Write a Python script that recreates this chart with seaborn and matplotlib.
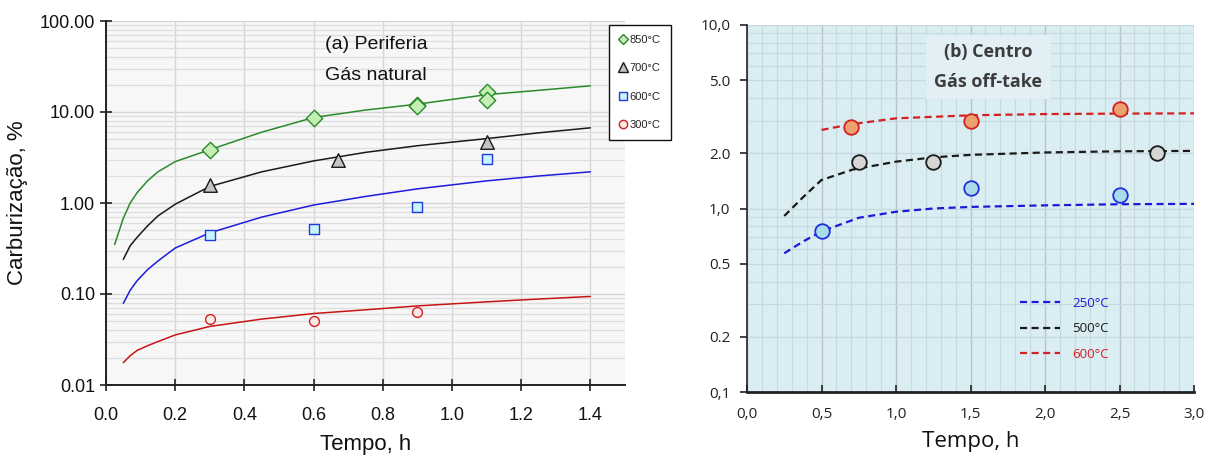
import numpy as np
import pandas as pd
import matplotlib
matplotlib.use("Agg")
import matplotlib.pyplot as plt
from matplotlib.lines import Line2D
from matplotlib.ticker import FixedLocator, NullFormatter, LogLocator, MultipleLocator
import seaborn as sns

sns.set_theme(style="white")
plt.rcParams['font.family'] = ['Liberation Sans', 'DejaVu Sans']

# ---------------- Panel (a): Periferia, Gás natural ----------------
a_labels = ["850°C", "700°C", "600°C", "300°C"]

# measured points
a850_t = [0.3, 0.6, 0.9, 0.9, 1.1, 1.1]
a850_v = [3.87, 8.6, 11.9, 11.5, 16.5, 13.5]
a700_t = [0.3, 0.67, 1.1]
a700_v = [1.56, 2.95, 4.7]
a600_t = [0.3, 0.6, 0.9, 1.1]
a600_v = [0.44, 0.52, 0.9, 3.08]
a300_t = [0.3, 0.6, 0.9]
a300_v = [0.053, 0.051, 0.064]

# model curves
c850_t = [0.025, 0.05, 0.07, 0.09, 0.12, 0.15, 0.2, 0.3, 0.45, 0.6, 0.75, 0.9, 1.1, 1.25, 1.4]
c850_v = [0.35, 0.68, 1.0, 1.3, 1.75, 2.2, 2.85, 3.85, 6.0, 8.7, 10.5, 12.2, 15.5, 17.3, 19.4]
c700_t = [0.05, 0.07, 0.09, 0.12, 0.15, 0.2, 0.3, 0.45, 0.6, 0.75, 0.9, 1.1, 1.25, 1.4]
c700_v = [0.24, 0.34, 0.42, 0.56, 0.72, 0.97, 1.52, 2.2, 2.9, 3.6, 4.26, 5.1, 5.9, 6.7]
c600_t = [0.05, 0.07, 0.09, 0.12, 0.15, 0.2, 0.3, 0.45, 0.6, 0.75, 0.9, 1.1, 1.25, 1.4]
c600_v = [0.079, 0.11, 0.14, 0.185, 0.23, 0.32, 0.47, 0.7, 0.95, 1.18, 1.43, 1.75, 1.98, 2.2]
c300_t = [0.05, 0.07, 0.09, 0.12, 0.15, 0.2, 0.3, 0.45, 0.6, 0.75, 0.9, 1.1, 1.25, 1.4]
c300_v = [0.0176, 0.021, 0.024, 0.027, 0.030, 0.0355, 0.044, 0.053, 0.061, 0.067, 0.074, 0.082, 0.088, 0.094]

a_xticks = [0.0, 0.2, 0.4, 0.6, 0.8, 1.0, 1.2, 1.4]
a_yticks = [0.01, 0.1, 1, 10, 100]
a_yticklabels = ["0.01", "0.10", "1.00", "10.00", "100.00"]

# ---------------- Panel (b): Centro, Gás off-take ----------------
b_labels = ["250°C", "500°C", "600°C"]
b250_t = [0.5, 1.5, 2.5]
b250_v = [0.75, 1.29, 1.19]
b500_t = [0.75, 1.25, 2.75]
b500_v = [1.8, 1.8, 2.0]
b600_t = [0.7, 1.5, 2.5]
b600_v = [2.79, 3.0, 3.48]

d250_t = [0.25, 0.375, 0.5, 0.75, 1.0, 1.25, 1.5, 2.0, 2.5, 3.0]
d250_v = [0.57, 0.66, 0.75, 0.89, 0.96, 1.0, 1.02, 1.04, 1.055, 1.06]
d500_t = [0.25, 0.375, 0.5, 0.71, 1.0, 1.25, 1.5, 2.0, 2.5, 3.0]
d500_v = [0.91, 1.15, 1.43, 1.63, 1.8, 1.9, 1.96, 2.02, 2.05, 2.06]
d600_t = [0.5, 0.7, 1.0, 1.5, 2.0, 2.5, 3.0]
d600_v = [2.68, 2.88, 3.1, 3.22, 3.27, 3.29, 3.3]

b_xticks = [0.0, 0.5, 1.0, 1.5, 2.0, 2.5, 3.0]
b_xticklabels = ["0,0", "0,5", "1,0", "1,5", "2,0", "2,5", "3,0"]
b_yticks = [0.1, 0.2, 0.5, 1, 2, 5, 10]
b_yticklabels = ["0,1", "0.2", "0.5", "1,0", "2.0", "5.0", "10,0"]

W, H = 1205, 458
fig = plt.figure(figsize=(W / 100, H / 100), dpi=100)
fig.patch.set_facecolor("white")

def fx(px):
    return px / W

def fy(py):
    return 1 - py / H

# ---------- axes (a) ----------
axa = fig.add_axes([fx(106), fy(385), fx(625) - fx(106), fy(21) - fy(385)])
axa.set_facecolor("#f7f7f7")
axa.set_yscale("log")
axa.set_xlim(0, 1.5)
axa.set_ylim(0.01, 100)

curves_a = [
    (c850_t, c850_v, "#2a8a2a"),
    (c700_t, c700_v, "#1a1a1a"),
    (c600_t, c600_v, "#1c1cdc"),
    (c300_t, c300_v, "#c81414"),
]
for t, v, col in curves_a:
    sns.lineplot(x=t, y=v, ax=axa, color=col, lw=1.1, legend=False,
                 estimator=None, sort=False, zorder=3)

pts_a = [
    (a850_t, a850_v, "D", 70, "#c5eeb5", "#2a8a2a"),
    (a700_t, a700_v, "^", 95, "#c4c4c4", "#1a1a1a"),
    (a600_t, a600_v, "s", 55, "#c9f3ff", "#1c3ce0"),
    (a300_t, a300_v, "o", 50, "#fbeaea", "#d42020"),
]
for t, v, mk, s, fc, ec in pts_a:
    sns.scatterplot(x=t, y=v, ax=axa, marker=mk, s=s, color=fc, edgecolor=ec,
                    linewidth=1.0, legend=False, zorder=4)

axa.xaxis.set_major_locator(FixedLocator(a_xticks))
axa.set_xticklabels([f"{x:.1f}" for x in a_xticks])
axa.yaxis.set_major_locator(FixedLocator(a_yticks))
axa.set_yticklabels(a_yticklabels)
axa.yaxis.set_minor_locator(LogLocator(base=10, subs=np.arange(2, 10)))
axa.yaxis.set_minor_formatter(NullFormatter())
axa.grid(True, which="major", axis="both", color="#d6d6d6", lw=1.0)
axa.grid(True, which="minor", axis="y", color="#dedede", lw=0.9)
axa.set_axisbelow(True)
for sp in ["top", "right"]:
    axa.spines[sp].set_visible(False)
for sp in ["left", "bottom"]:
    axa.spines[sp].set_visible(True)
    axa.spines[sp].set_color("#222222")
    axa.spines[sp].set_linewidth(1.4)
axa.tick_params(axis="both", which="major", direction="inout", length=8, width=1.2,
                color="#222222", labelsize=13, labelcolor="#111111", bottom=True, left=True)
axa.tick_params(axis="y", which="minor", length=0)
axa.tick_params(axis="x", pad=12)
axa.tick_params(axis="y", pad=4)
axa.set_xlabel("Tempo, h", fontsize=16, labelpad=7, color="#111111")
axa.set_ylabel("Carburização, %", fontsize=16, labelpad=8, color="#111111")
axa.text(0.422, 0.936, "(a) Periferia", transform=axa.transAxes, ha="left", va="center",
         fontsize=14, color="#111111")
axa.text(0.422, 0.85, "Gás natural", transform=axa.transAxes, ha="left", va="center",
         fontsize=14, color="#111111")

handles_a = [
    Line2D([], [], ls="none", marker="D", ms=5, mfc="#c5eeb5", mec="#2a8a2a", mew=1.0),
    Line2D([], [], ls="none", marker="^", ms=6.5, mfc="#c4c4c4", mec="#1a1a1a", mew=1.0),
    Line2D([], [], ls="none", marker="s", ms=6, mfc="#c9f3ff", mec="#1c3ce0", mew=1.0),
    Line2D([], [], ls="none", marker="o", ms=6, mfc="#fbeaea", mec="#d42020", mew=1.0),
]
lga = fig.legend(handles_a, a_labels, loc="upper left",
                 bbox_to_anchor=(fx(609), fy(25)), frameon=True, fancybox=False,
                 edgecolor="#111111", facecolor="white", framealpha=1, fontsize=8,
                 handlelength=0.7, handletextpad=0.25, labelspacing=1.65,
                 borderpad=0.9, borderaxespad=0)
lga.get_frame().set_linewidth(1.0)

# ---------- axes (b) ----------
axb = fig.add_axes([fx(747), fy(392), fx(1194) - fx(747), fy(25) - fy(392)])
axb.set_facecolor("#daedf3")
axb.set_yscale("log")
axb.set_xlim(0, 3.0)
axb.set_ylim(0.1, 10)

curves_b = [
    (d250_t, d250_v, "#1a1ad8", b_labels[0]),
    (d500_t, d500_v, "#1a1a1a", b_labels[1]),
    (d600_t, d600_v, "#d42020", b_labels[2]),
]
handles_b = []
for t, v, col, lab in curves_b:
    sns.lineplot(x=t, y=v, ax=axb, color=col, lw=1.6, legend=False,
                 estimator=None, sort=False, zorder=3, linestyle=(0, (3.2, 2.0)))
    handles_b.append(Line2D([], [], color=col, lw=1.6, linestyle=(0, (3.2, 2.0))))

pts_b = [
    (b250_t, b250_v, "#a9dbe8", "#2030e0"),
    (b500_t, b500_v, "#d6d6d6", "#1a1a1a"),
    (b600_t, b600_v, "#eda070", "#d42020"),
]
for t, v, fc, ec in pts_b:
    sns.scatterplot(x=t, y=v, ax=axb, marker="o", s=110, color=fc, edgecolor=ec,
                    linewidth=1.3, legend=False, zorder=4)

axb.xaxis.set_major_locator(FixedLocator(b_xticks))
axb.set_xticklabels(b_xticklabels)
axb.xaxis.set_minor_locator(MultipleLocator(0.1))
axb.yaxis.set_major_locator(FixedLocator(b_yticks))
axb.set_yticklabels(b_yticklabels)
axb.yaxis.set_minor_locator(LogLocator(base=10, subs=np.arange(1, 10)))
axb.yaxis.set_minor_formatter(NullFormatter())
axb.grid(True, which="major", axis="x", color="#b9c2c6", lw=1.0)
axb.grid(True, which="minor", axis="x", color="#c5d9df", lw=0.8)
axb.grid(True, which="major", axis="y", color="#c5d9df", lw=0.9)
axb.grid(True, which="minor", axis="y", color="#c5d9df", lw=0.8)
axb.set_axisbelow(True)
for sp in ["top", "right"]:
    axb.spines[sp].set_visible(False)
for sp in ["left", "bottom"]:
    axb.spines[sp].set_visible(True)
    axb.spines[sp].set_color("#222222")
axb.spines["left"].set_linewidth(1.2)
axb.spines["bottom"].set_linewidth(2.0)
axb.tick_params(axis="x", which="major", direction="in", length=5, width=1.2,
                color="#222222", labelsize=11, labelcolor="#222222", bottom=True, pad=11)
axb.tick_params(axis="y", which="major", direction="out", length=5, width=1.2,
                color="#222222", labelsize=11, labelcolor="#222222", left=True, pad=7)
axb.tick_params(axis="both", which="minor", length=0)
for lab in axb.get_xticklabels() + axb.get_yticklabels():
    lab.set_family(["Open Sans", "DejaVu Sans"])
axb.set_xlabel("Tempo, h", fontsize=16, labelpad=6, color="#111111",
               family=["Open Sans", "DejaVu Sans"])
axb.text(0.54, 0.885, "(b) Centro\nGás off-take", transform=axb.transAxes,
         ha="center", va="center", fontsize=13, fontweight="bold", color="#3c3c3c",
         linespacing=1.85, family=["Open Sans", "DejaVu Sans"],
         bbox=dict(boxstyle="square,pad=0.45", facecolor="#e2f0f5", edgecolor="none"))

lgb = axb.legend(handles_b, b_labels, loc="upper left", bbox_to_anchor=(0.585, 0.292),
                 frameon=False, handlelength=3.0, handletextpad=0.9,
                 labelspacing=0.95, labelcolor="linecolor",
                 prop={"family": ["Open Sans", "DejaVu Sans"], "size": 9.5})

fig.savefig("out.png", dpi=100, facecolor="white")
